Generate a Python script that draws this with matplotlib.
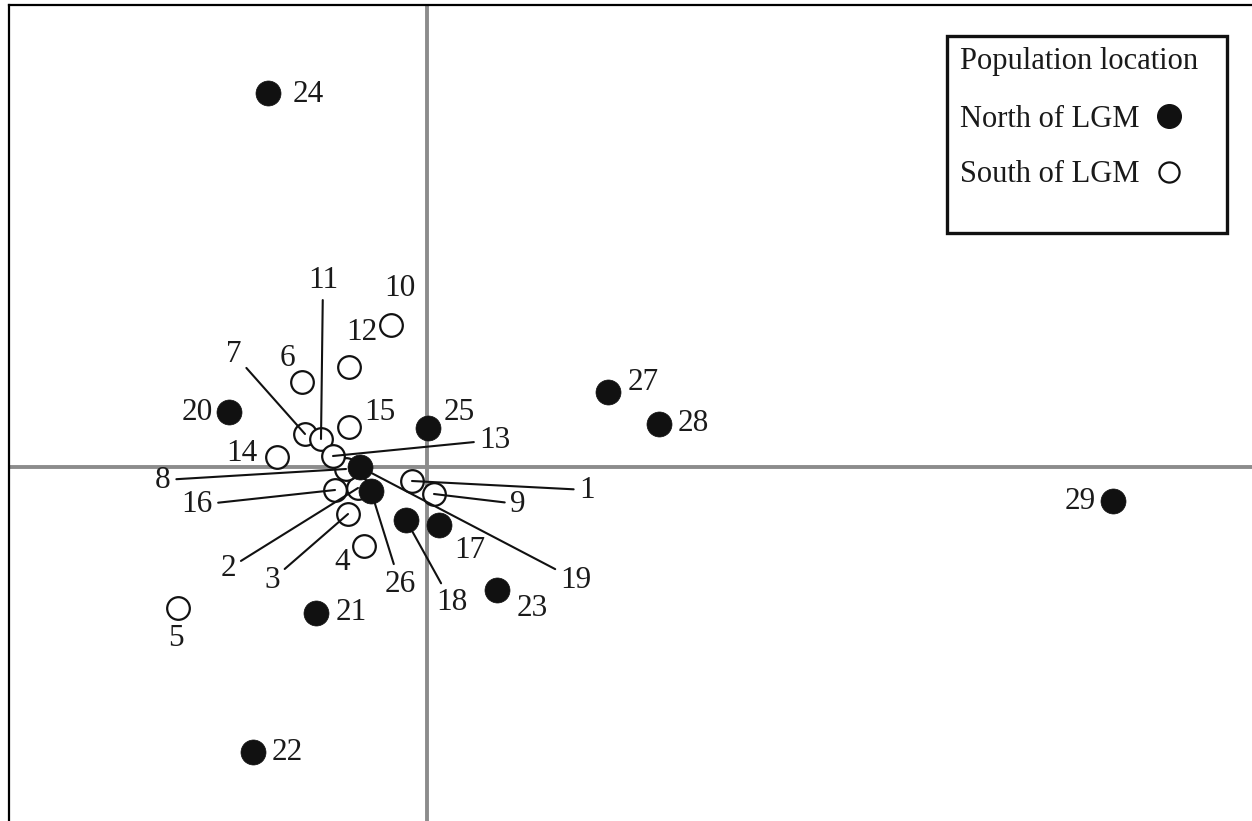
import matplotlib
matplotlib.use("Agg")
import matplotlib.pyplot as plt
from matplotlib.patches import Rectangle

# ---------------- data ----------------
pop_ids = [str(i) for i in range(1, 30)]
axis1 = [-0.15, -0.69, -0.79, -0.63, -2.49, -1.25, -1.22, -0.81, 0.07, -0.36,
         -1.06, -0.78, -0.94, -1.50, -0.78, -0.92, 0.12, -0.21, -0.67, -1.98,
         -1.11, -1.74, 0.70, -1.59, 0.01, -0.56, 1.81, 2.32, 6.86]
axis2 = [-0.14, -0.21, -0.47, -0.79, -1.41, 0.85, 0.33, -0.02, -0.27, 1.42,
         0.28, 1.00, 0.11, 0.10, 0.40, -0.23, -0.58, -0.53, 0.00, 0.55,
         -1.46, -2.85, -1.23, 3.74, 0.39, -0.24, 0.75, 0.43, -0.34]
location = ["S", "S", "S", "S", "S", "S", "S", "S", "S", "S",
            "S", "S", "S", "S", "S", "S", "N", "N", "N", "N",
            "N", "N", "N", "N", "N", "N", "N", "N", "N"]

legend_title = "Population location"
legend_labels = {"N": "North of LGM", "S": "South of LGM"}

# label placement (offset in pixels from point) and whether a leader line is drawn
label_offsets = {
    "1": (175, -7), "2": (-130, -79), "3": (-76, -64), "4": (-22, -14),
    "5": (-2, -28), "6": (-15, 26), "7": (-71, 82), "8": (-183, -9),
    "9": (84, -8), "10": (9, 39), "11": (2, 161), "12": (13, 37),
    "13": (162, 18), "14": (-35, 6), "15": (31, 17), "16": (-138, -13),
    "17": (31, -23), "18": (46, -81), "19": (216, -111), "20": (-32, 2),
    "21": (35, 3), "22": (34, 2), "23": (35, -17), "24": (40, 1),
    "25": (31, 18), "26": (29, -91), "27": (35, 12), "28": (34, 3),
    "29": (-33, 2),
}
leaders = {"1", "2", "3", "7", "8", "9", "11", "13", "16", "18", "19", "26"}
text_dy = -2  # small vertical correction for text centering (pixels)

# ---------------- figure ----------------
W, H = 1252, 821
fig = plt.figure(figsize=(W / 100, H / 100), dpi=100)
plt.rcParams["font.family"] = ["Liberation Serif", "DejaVu Serif"]

ax = fig.add_axes([9 / W, 0, (W - 9) / W, (H - 5) / H])
ax.set_xlim(-4.18, 8.25)
ax.set_ylim(-3.54, 4.62)
ax.set_xticks([])
ax.set_yticks([])
for s in ["right", "bottom"]:
    ax.spines[s].set_visible(False)
for s in ["left", "top"]:
    ax.spines[s].set_linewidth(1.6)
    ax.spines[s].set_color("black")

ax.axhline(0, color="#8c8c8c", lw=2.8, zorder=1)
ax.axvline(0, color="#8c8c8c", lw=2.8, zorder=1)

FS = 22.5
LFS = 22
TXT = "#1a1a1a"

# leader lines & labels
for pid, x, y in zip(pop_ids, axis1, axis2):
    dx, dy = label_offsets[pid]
    kw = dict(xy=(x, y), xytext=(dx, dy + text_dy), textcoords="offset pixels",
              ha="center", va="center", fontsize=FS, color=TXT, zorder=4)
    if pid in leaders:
        kw["arrowprops"] = dict(arrowstyle="-", color="#111111", lw=1.5,
                                shrinkA=2, shrinkB=0)
    ax.annotate(pid, **kw)

# points
for pid, x, y, loc in zip(pop_ids, axis1, axis2, location):
    if loc == "N":
        ax.plot(x, y, "o", ms=18, mfc="#111111", mec="#111111", mew=0.5, zorder=3)
    else:
        ax.plot(x, y, "o", ms=16.3, mfc="white", mec="#111111", mew=1.6, zorder=3)

# legend drawn manually in figure pixel coordinates
def fx(px):
    return px / W

def fy(py):
    return 1 - py / H

rect = Rectangle((fx(947), fy(233)), fx(1227) - fx(947), fy(36) - fy(233),
                 transform=fig.transFigure, fill=True, facecolor="white",
                 edgecolor="#111111", lw=2.4, zorder=10)
fig.patches.append(rect)
for txt, py in [(legend_title, 60), (legend_labels["N"], 117), (legend_labels["S"], 172)]:
    fig.text(fx(960), fy(py - text_dy), txt, fontsize=LFS, ha="left", va="center",
             color=TXT, zorder=11)
fig.lines.append(plt.Line2D([fx(1169)], [fy(116)], marker="o", ms=17,
                            mfc="#111111", mec="#111111", transform=fig.transFigure,
                            zorder=11))
fig.lines.append(plt.Line2D([fx(1169)], [fy(172)], marker="o", ms=14.5,
                            mfc="white", mec="#111111", mew=1.6,
                            transform=fig.transFigure, zorder=11))

fig.savefig("out.png", dpi=100)
